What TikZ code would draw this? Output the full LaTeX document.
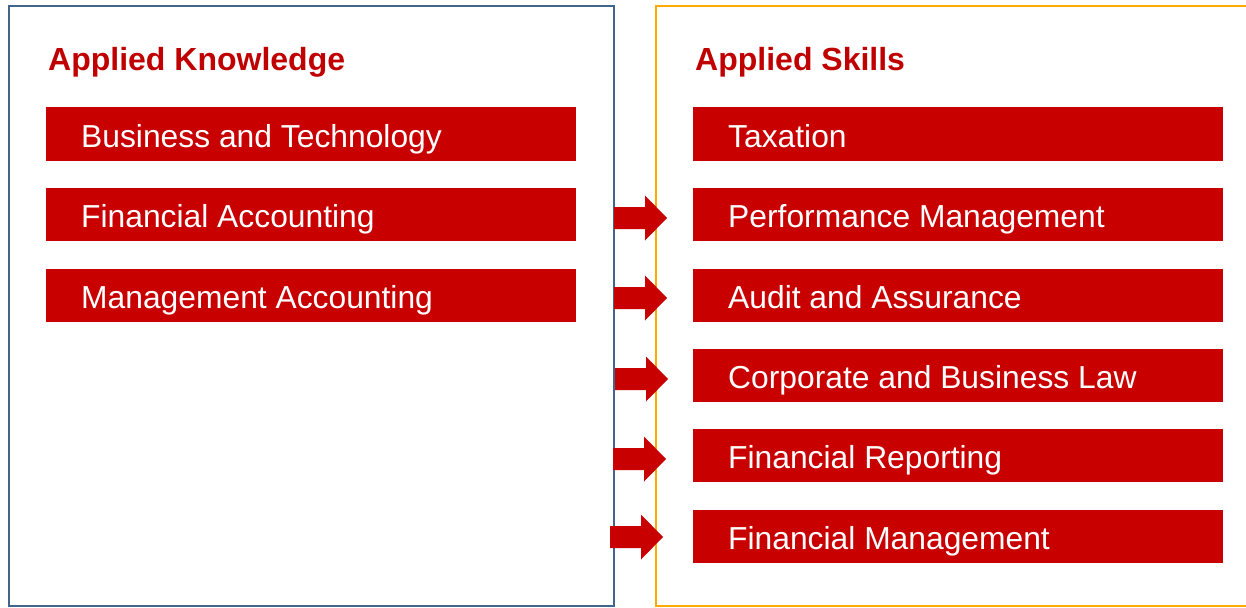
\documentclass[tikz,border=0pt]{standalone}
\usepackage{fontspec}
\setmainfont{Liberation Sans}
\definecolor{boxred}{RGB}{200,0,0}
\definecolor{titlered}{RGB}{192,0,0}
\definecolor{leftframe}{RGB}{65,102,140}
\definecolor{rightframe}{RGB}{255,170,0}
\tikzset{
  item/.style={fill=boxred, text=white, anchor=west, minimum height=53pt,
    inner xsep=35pt, inner ysep=0pt, text width=460pt, align=flush left,
    text height=26pt, text depth=0pt,
    font=\fontsize{31.8}{36}\selectfont},
  heading/.style={text=titlered, anchor=base west, inner sep=0pt,
    font=\fontsize{32}{36}\selectfont\bfseries},
  arrowshape/.style={fill=boxred},
}
\begin{document}
\begin{tikzpicture}[x=1pt,y=-1pt]
\useasboundingbox (0,0) rectangle (1246,607);
\begin{scope}
\clip (0,0) rectangle (1246,607);
% frames
\draw[leftframe, line width=2.5pt] (9,6) rectangle (614,606);
\draw[rightframe, line width=2.5pt] (656,6) rectangle (1260,606);
\end{scope}
% headings
\node[heading] (hk) at (48,71) {Applied Knowledge};
\node[heading] (hs) at (695,71) {Applied Skills};
% left items
\node[item] (k1) at (46,134) {Business and Technology};
\node[item] (k2) at (46,214.5) {Financial Accounting};
\node[item] (k3) at (46,295) {Management Accounting};
% right items
\node[item] (s1) at (693,134) {Taxation};
\node[item] (s2) at (693,214.5) {Performance Management};
\node[item] (s3) at (693,295) {Audit and Assurance};
\node[item] (s4) at (693,375) {Corporate and Business Law};
\node[item] (s5) at (693,455.5) {Financial Reporting};
\node[item] (s6) at (693,536) {Financial Management};
% arrows
\foreach \x/\y in {614/218, 614/298, 615/379, 613/459, 610/537}{
  \fill[arrowshape] (\x,\y-11) -- (\x+31,\y-11) -- (\x+31,\y-22.5) -- (\x+53,\y)
     -- (\x+31,\y+22.5) -- (\x+31,\y+11) -- (\x,\y+11) -- cycle;
}
\end{tikzpicture}
\end{document}
